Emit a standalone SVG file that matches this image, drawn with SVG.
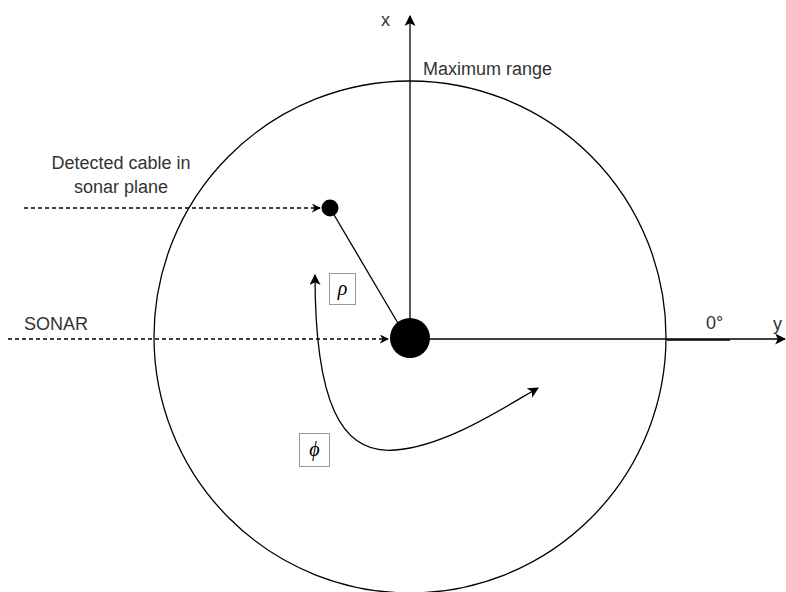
<svg xmlns="http://www.w3.org/2000/svg" width="786" height="592" viewBox="0 0 786 592">
<defs>
<style>
.ln{stroke:#000;stroke-width:1.3;fill:none}
.dash{stroke:#000;stroke-width:1.3;fill:none;stroke-dasharray:4 3}
.t{font-family:"Liberation Sans",Arial,sans-serif;font-size:18px;fill:#333}
.g{font-family:"Liberation Serif","DejaVu Serif",serif;font-size:20px;font-style:italic;fill:#000;text-anchor:middle}
.box{fill:#fff;stroke:#999;stroke-width:1}
</style>
<marker id="arr" viewBox="0 0 10 10" refX="9" refY="5" markerWidth="9" markerHeight="9" markerUnits="userSpaceOnUse" orient="auto">
<path d="M0,0 L10,5 L0,10 L3,5 z" fill="#000"/>
</marker>
<marker id="blk" viewBox="0 0 10 10" refX="9" refY="5" markerWidth="11" markerHeight="11" markerUnits="userSpaceOnUse" orient="auto-start-reverse">
<path d="M0,0 L10,5 L0,10 L2.5,5 z" fill="#000"/>
</marker>
</defs>
<rect width="786" height="592" fill="#fff"/>
<g id="range-circle">
<circle cx="410" cy="337" r="256" class="ln"/>
</g>
<g id="connectors">
<line x1="410" y1="338" x2="410" y2="16" class="ln" marker-end="url(#blk)"/>
<line x1="410" y1="339" x2="785" y2="339" class="ln" marker-end="url(#blk)"/>
<line x1="667" y1="340" x2="730" y2="340" stroke="#000" stroke-width="1.5"/>
<line x1="8" y1="339" x2="388" y2="339" class="dash" marker-end="url(#arr)"/>
<line x1="24" y1="208" x2="320" y2="208" class="dash" marker-end="url(#arr)"/>
<line x1="330" y1="208" x2="402" y2="330" class="ln"/>
<path d="M315,275 C315,400 340,455 395,450 C445,446 500,410 538,388" class="ln" marker-start="url(#blk)" marker-end="url(#blk)"/>
</g>
<g id="sonar">
<circle cx="410" cy="338" r="20" fill="#000"/>
</g>
<g id="cable">
<circle cx="330" cy="208" r="8.5" fill="#000"/>
</g>
<g id="labels">
<text class="t" x="381" y="26">x</text>
<text class="t" x="423" y="75">Maximum range</text>
<text class="t" x="121" y="169" text-anchor="middle">Detected cable in</text>
<text class="t" x="121" y="193" text-anchor="middle">sonar plane</text>
<text class="t" x="24" y="330">SONAR</text>
<text class="t" x="706" y="329">0°</text>
<text class="t" x="773" y="330">y</text>
</g>
<g id="rho">
<rect x="329.5" y="273.5" width="26" height="31" class="box"/>
<text class="g" x="342.5" y="295">ρ</text>
</g>
<g id="phi">
<rect x="299.5" y="433.5" width="30" height="33" class="box"/>
<text class="g" x="314.5" y="456">ϕ</text>
</g>
</svg>
